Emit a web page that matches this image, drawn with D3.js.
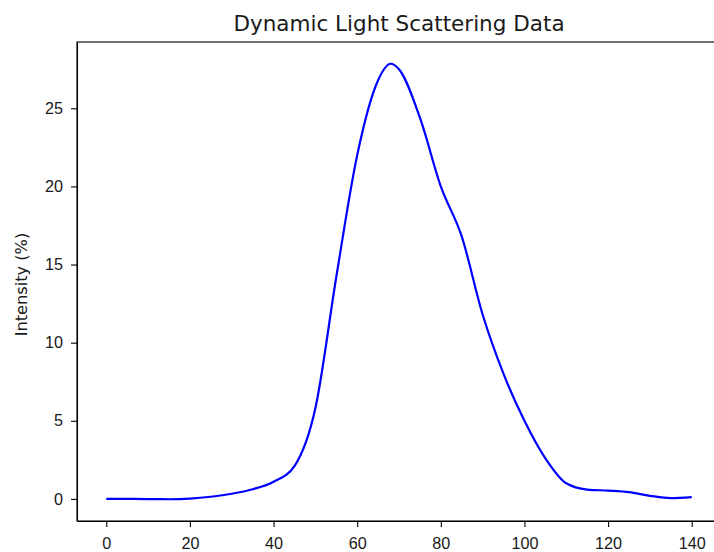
<!DOCTYPE html>
<html>
<head>
<meta charset="utf-8">
<script src="https://cdn.jsdelivr.net/npm/d3@7"></script>
<style>
  body { margin: 0; background: #fff; }
  svg { font-family: "DejaVu Sans", sans-serif; }
  .axis text { font-size: 16.2px; fill: #1a1a1a; }
  .axis path, .axis line { stroke: #000; stroke-width: 1.1px; }
</style>
</head>
<body>
<svg width="714" height="552"></svg>
<script>
// particle size (x) and intensity (%)
const sizes = [0, 5, 10, 15, 20, 25, 30, 35, 40, 45, 50, 55, 60, 65, 68, 70, 75, 80, 85, 90, 95, 100, 105, 110, 115, 120, 125, 130, 135, 140];
const intensity = [0, 0, -0.01, -0.02, 0.02, 0.14, 0.33, 0.62, 1.1, 2.1, 5.8, 14.2, 22.0, 26.8, 27.85, 27.5, 24.4, 20.0, 16.8, 11.8, 8.0, 5.0, 2.6, 1.0, 0.6, 0.53, 0.43, 0.2, 0.05, 0.12];
const xTicks = [0, 20, 40, 60, 80, 100, 120, 140];
const yTicks = [0, 5, 10, 15, 20, 25];

const data = sizes.map((s, i) => ({ x: s, y: intensity[i] }));

const svg = d3.select("svg"),
  margin = { top: 42, right: -7, bottom: 31, left: 77 },
  width = +svg.attr("width") - margin.left - margin.right,
  height = +svg.attr("height") - margin.top - margin.bottom,
  g = svg.append("g").attr("transform", `translate(${margin.left},${margin.top})`);

// matplotlib style 5% margins
const xPad = (d3.max(sizes) - d3.min(sizes)) * 0.05;
const yPad = (d3.max(intensity) - d3.min(intensity)) * 0.05;

const x = d3.scaleLinear()
  .domain([d3.min(sizes) - xPad, d3.max(sizes) + xPad])
  .range([0, width]);

const y = d3.scaleLinear()
  .domain([d3.min(intensity) - yPad, d3.max(intensity) + yPad])
  .range([height, 0]);

g.append("g")
  .attr("class", "axis")
  .attr("transform", `translate(0,${height})`)
  .call(d3.axisBottom(x).tickValues(xTicks).tickSize(6).tickPadding(10).tickSizeOuter(0));

g.append("g")
  .attr("class", "axis")
  .call(d3.axisLeft(y).tickValues(yTicks).tickSize(6).tickPadding(8).tickSizeOuter(0));

// frame
g.append("rect")
  .attr("width", width)
  .attr("height", height)
  .attr("fill", "none")
  .attr("stroke", "#000")
  .attr("stroke-width", 1.1);

g.append("path")
  .datum(data)
  .attr("fill", "none")
  .attr("stroke", "blue")
  .attr("stroke-width", 2.2)
  .attr("d", d3.line().x((d) => x(d.x)).y((d) => y(d.y)).curve(d3.curveMonotoneX));

svg.append("text")
  .attr("x", margin.left + width / 2)
  .attr("y", 31)
  .attr("text-anchor", "middle")
  .style("font-size", "21.5px")
  .style("fill", "#1a1a1a")
  .text("Dynamic Light Scattering Data");

svg.append("text")
  .attr("transform", "rotate(-90)")
  .attr("x", -(margin.top + height / 2) - 3)
  .attr("y", 27)
  .attr("text-anchor", "middle")
  .style("font-size", "16.2px")
  .style("fill", "#1a1a1a")
  .text("Intensity (%)");
</script>
</body>
</html>
